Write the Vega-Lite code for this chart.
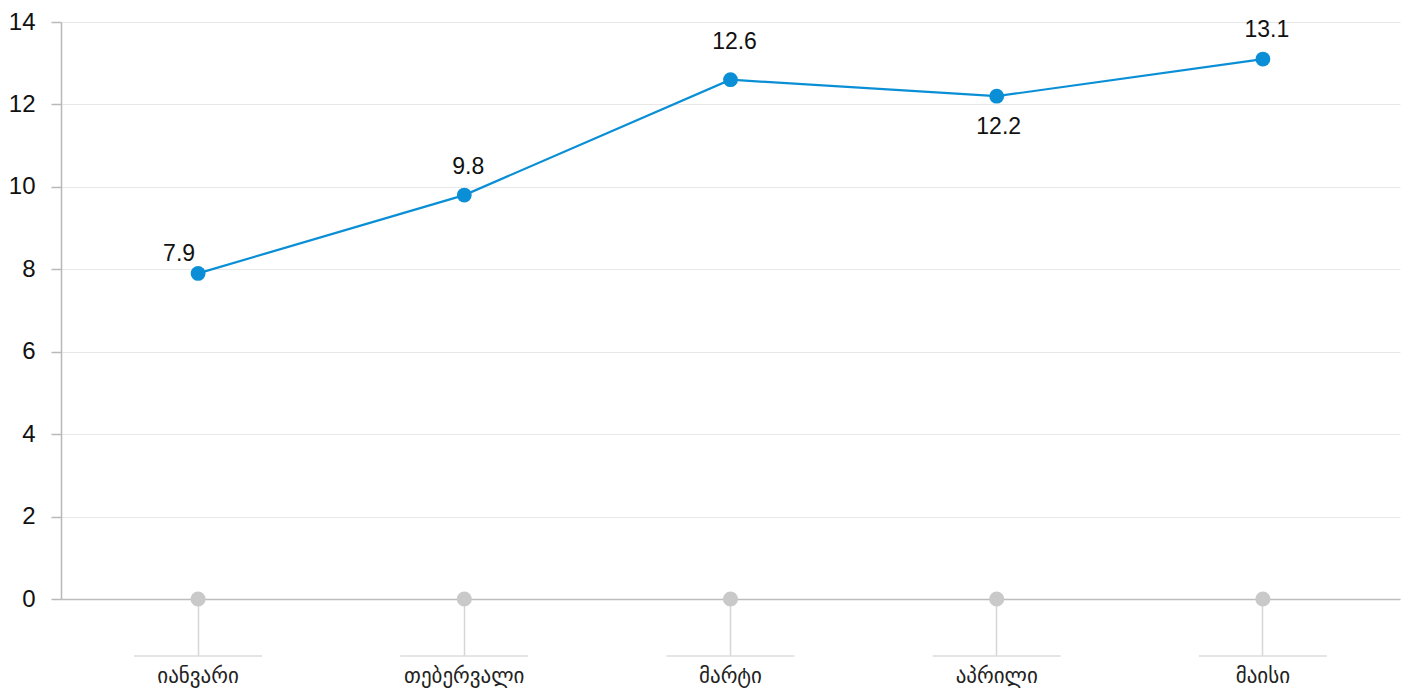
{
  "$schema": "https://vega.github.io/schema/vega-lite/v6.json",
  "width": 1339,
  "height": 577,
  "autosize": {"type": "none"},
  "padding": {"left": 61, "top": 22, "right": 8, "bottom": 91},
  "background": "white",
  "config": {
    "view": {"stroke": null},
    "font": "Liberation Sans"
  },
  "data": {
    "values": [
      {"month": "იანვარი", "value": 7.9},
      {"month": "თებერვალი", "value": 9.8},
      {"month": "მარტი", "value": 12.6},
      {"month": "აპრილი", "value": 12.2},
      {"month": "მაისი", "value": 13.1}
    ]
  },
  "encoding": {
    "x": {
      "field": "month",
      "type": "nominal",
      "sort": null,
      "scale": {"type": "band", "paddingInner": 0, "paddingOuter": 0.015},
      "axis": {
        "title": null,
        "labelAngle": 0,
        "domain": true,
        "domainColor": "#bdbdbd",
        "domainWidth": 1.5,
        "ticks": true,
        "tickSize": 56,
        "tickColor": "#d6d6d6",
        "tickWidth": 1.5,
        "labelPadding": 27,
        "labelBaseline": "alphabetic",
        "labelFont": "DejaVu Sans",
        "labelFontSize": 21,
        "labelColor": "#222222",
        "grid": false
      }
    }
  },
  "layer": [
    {
      "mark": {"type": "tick", "orient": "horizontal", "size": 128, "thickness": 1.5, "color": "#cfcfcf"},
      "encoding": {
        "y": {
          "datum": -1.38,
          "type": "quantitative",
          "scale": {"domain": [0, 14], "nice": false, "zero": true},
          "axis": {
            "title": null,
            "values": [0, 2, 4, 6, 8, 10, 12, 14],
            "grid": true,
            "gridColor": "#e8e8e8",
            "gridWidth": 1,
            "domain": true,
            "domainColor": "#b8b8b8",
            "domainWidth": 1.5,
            "ticks": true,
            "tickSize": 10,
            "tickColor": "#b8b8b8",
            "tickWidth": 1.5,
            "labelPadding": 16,
            "labelFont": "Liberation Sans",
            "labelFontSize": 24,
            "labelColor": "#111111"
          }
        }
      }
    },
    {
      "mark": {"type": "point", "filled": true, "size": 230, "opacity": 1, "color": "#c9c9c9"},
      "encoding": {"y": {"datum": 0, "type": "quantitative"}}
    },
    {
      "mark": {"type": "line", "color": "#0a8fd6", "strokeWidth": 2.2},
      "encoding": {"y": {"field": "value", "type": "quantitative"}}
    },
    {
      "mark": {"type": "point", "filled": true, "size": 220, "opacity": 1, "color": "#0a8fd6"},
      "encoding": {"y": {"field": "value", "type": "quantitative"}}
    },
    {
      "transform": [{"filter": "datum.month == 'იანვარი'"}],
      "mark": {"type": "text", "fontSize": 23, "color": "#111111", "baseline": "alphabetic", "align": "center", "dx": -19, "dy": -12},
      "encoding": {"y": {"field": "value", "type": "quantitative"}, "text": {"field": "value", "type": "quantitative", "format": ".1f"}}
    },
    {
      "transform": [{"filter": "datum.month == 'თებერვალი'"}],
      "mark": {"type": "text", "fontSize": 23, "color": "#111111", "baseline": "alphabetic", "align": "center", "dx": 4, "dy": -21},
      "encoding": {"y": {"field": "value", "type": "quantitative"}, "text": {"field": "value", "type": "quantitative", "format": ".1f"}}
    },
    {
      "transform": [{"filter": "datum.month == 'მარტი'"}],
      "mark": {"type": "text", "fontSize": 23, "color": "#111111", "baseline": "alphabetic", "align": "center", "dx": 4, "dy": -31},
      "encoding": {"y": {"field": "value", "type": "quantitative"}, "text": {"field": "value", "type": "quantitative", "format": ".1f"}}
    },
    {
      "transform": [{"filter": "datum.month == 'აპრილი'"}],
      "mark": {"type": "text", "fontSize": 23, "color": "#111111", "baseline": "alphabetic", "align": "center", "dx": 2, "dy": 38},
      "encoding": {"y": {"field": "value", "type": "quantitative"}, "text": {"field": "value", "type": "quantitative", "format": ".1f"}}
    },
    {
      "transform": [{"filter": "datum.month == 'მაისი'"}],
      "mark": {"type": "text", "fontSize": 23, "color": "#111111", "baseline": "alphabetic", "align": "center", "dx": 4, "dy": -22},
      "encoding": {"y": {"field": "value", "type": "quantitative"}, "text": {"field": "value", "type": "quantitative", "format": ".1f"}}
    }
  ]
}
